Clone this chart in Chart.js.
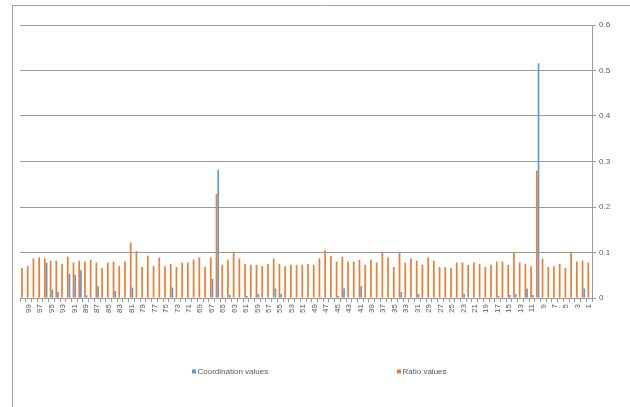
<!DOCTYPE html>
<html>
<head>
<meta charset="utf-8">
<script src="https://cdn.jsdelivr.net/npm/chart.js@4/dist/chart.umd.min.js"></script>
<style>
  html, body { margin: 0; padding: 0; background: #ffffff; }
  #wrap { width: 630px; height: 407px; position: relative; }
</style>
</head>
<body>
<div id="wrap"><canvas id="c" width="630" height="407"></canvas></div>
<script>
// Item numbers, listed left to right as they appear on the axis
const categories = [
  100, 99, 98, 97, 96, 95, 94, 93, 92, 91,
  90, 89, 88, 87, 86, 85, 84, 83, 82, 81,
  80, 79, 78, 77, 76, 75, 74, 73, 72, 71,
  70, 69, 68, 67, 66, 65, 64, 63, 62, 61,
  60, 59, 58, 57, 56, 55, 54, 53, 52, 51,
  50, 49, 48, 47, 46, 45, 44, 43, 42, 41,
  40, 39, 38, 37, 36, 35, 34, 33, 32, 31,
  30, 29, 28, 27, 26, 25, 24, 23, 22, 21,
  20, 19, 18, 17, 16, 15, 14, 13, 12, 11,
  10, 9, 8, 7, 6, 5, 4, 3, 2, 1
];

const coordinationValues = [
  0, 0, 0, 0, 0.077, 0.0185, 0.013, 0, 0.053, 0.051,
  0.061, 0.006, 0, 0.026, 0, 0, 0.0156, 0, 0, 0.023,
  0, 0, 0, 0, 0, 0, 0.023, 0, 0, 0,
  0, 0, 0, 0.042, 0.282, 0.002, 0.0067, 0, 0, 0.0044,
  0, 0.0089, 0, 0, 0.0207, 0.0089, 0, 0, 0, 0,
  0, 0, 0.002, 0, 0, 0.0044, 0.0207, 0, 0, 0.0259,
  0, 0, 0, 0, 0, 0, 0.0133, 0, 0, 0.0089,
  0, 0, 0.002, 0, 0, 0, 0, 0.0089, 0, 0,
  0, 0, 0, 0.0044, 0.002, 0.0067, 0.0089, 0, 0.0207, 0.0067,
  0.516, 0, 0, 0, 0, 0, 0, 0.002, 0.0207, 0
];

const ratioValues = [
  0.066, 0.070, 0.087, 0.089, 0.087, 0.082, 0.082, 0.075, 0.091, 0.078,
  0.082, 0.080, 0.084, 0.078, 0.066, 0.078, 0.080, 0.070, 0.080, 0.122,
  0.103, 0.068, 0.093, 0.070, 0.089, 0.070, 0.075, 0.068, 0.078, 0.078,
  0.084, 0.089, 0.068, 0.089, 0.229, 0.073, 0.084, 0.099, 0.087, 0.075,
  0.073, 0.073, 0.070, 0.075, 0.087, 0.075, 0.070, 0.073, 0.073, 0.073,
  0.075, 0.073, 0.087, 0.105, 0.093, 0.080, 0.091, 0.080, 0.080, 0.084,
  0.073, 0.084, 0.078, 0.100, 0.089, 0.068, 0.100, 0.078, 0.087, 0.082,
  0.073, 0.089, 0.082, 0.068, 0.068, 0.066, 0.078, 0.078, 0.073, 0.078,
  0.075, 0.068, 0.073, 0.080, 0.080, 0.073, 0.099, 0.078, 0.075, 0.070,
  0.280, 0.087, 0.068, 0.070, 0.075, 0.066, 0.099, 0.080, 0.082, 0.078
];

const valueTicks = [0, 0.1, 0.2, 0.3, 0.4, 0.5, 0.6];

const BLUE = '#5B9BD5';
const ORANGE = '#ED7D31';
const GRID = '#9a9a9a';
const TEXT = '#595959';
const FONT = '"Liberation Sans Narrow", "Liberation Sans", Arial, sans-serif';

// Outer frame of the chart box (left and top edges)
const framePlugin = {
  id: 'frame',
  beforeDraw(chart) {
    const ctx = chart.ctx;
    ctx.save();
    ctx.strokeStyle = '#a0a0a0';
    ctx.lineWidth = 1;
    ctx.beginPath();
    ctx.moveTo(12.5, 407);
    ctx.lineTo(12.5, 5.5);
    ctx.lineTo(630, 5.5);
    ctx.stroke();
    ctx.restore();
  }
};

// Legend below the plot: one entry per series, spread apart
const legendPlugin = {
  id: 'spreadLegend',
  afterDraw(chart) {
    const ctx = chart.ctx;
    const entries = [
      { label: 'Coordination values', x: 192 },
      { label: 'Ratio values', x: 397 }
    ];
    ctx.save();
    ctx.font = '8px ' + FONT;
    ctx.textBaseline = 'middle';
    ctx.textAlign = 'left';
    entries.forEach(e => {
      const ds = chart.data.datasets.find(d => d.label === e.label);
      ctx.fillStyle = ds.backgroundColor;
      ctx.fillRect(e.x, 369.5, 4, 4);
      ctx.fillStyle = TEXT;
      ctx.fillText(ds.label, e.x + 5.5, 372);
    });
    ctx.restore();
  }
};

new Chart(document.getElementById('c'), {
  type: 'bar',
  data: {
    labels: categories,
    datasets: [
      {
        label: 'Ratio values',
        data: ratioValues,
        backgroundColor: ORANGE,
        borderWidth: 0,
        categoryPercentage: 0.6,
        barPercentage: 1.0
      },
      {
        label: 'Coordination values',
        data: coordinationValues,
        backgroundColor: BLUE,
        borderWidth: 0,
        categoryPercentage: 0.6,
        barPercentage: 1.0
      }
    ]
  },
  options: {
    responsive: false,
    animation: false,
    layout: { padding: { left: 20, top: 25, right: 0, bottom: 0 } },
    plugins: {
      legend: { display: false },
      tooltip: { enabled: false }
    },
    scales: {
      x: {
        offset: true,
        grid: {
          display: true,
          offset: true,
          drawOnChartArea: false,
          drawTicks: true,
          tickLength: 4,
          color: GRID
        },
        border: { display: true, color: GRID },
        ticks: {
          autoSkip: false,
          minRotation: 90,
          maxRotation: 90,
          padding: 2,
          color: TEXT,
          font: { size: 8, family: FONT },
          callback: function (value) {
            const lab = Number(this.getLabelForValue(value));
            return lab % 2 === 1 ? String(lab) : '';
          }
        },
        afterFit(scale) { scale.height = 109; }
      },
      y: {
        position: 'right',
        min: valueTicks[0],
        max: valueTicks[valueTicks.length - 1],
        afterBuildTicks(scale) {
          scale.ticks = valueTicks.map(v => ({ value: v }));
        },
        grid: {
          color: GRID,
          drawTicks: true,
          tickLength: 4
        },
        border: { display: true, color: GRID },
        ticks: {
          padding: 3,
          color: TEXT,
          font: { size: 8, family: FONT },
          callback: v => String(Math.round(v * 10) / 10)
        },
        afterFit(scale) { scale.width = 38; }
      }
    }
  },
  plugins: [framePlugin, legendPlugin]
});
</script>
</body>
</html>
